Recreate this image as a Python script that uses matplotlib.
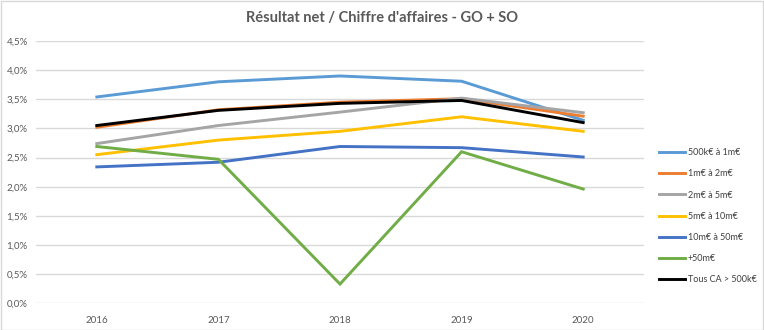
import matplotlib.pyplot as plt
from matplotlib.patches import Rectangle

plt.rcParams["font.family"] = ["Lato", "DejaVu Sans"]

YEARS = ["2016", "2017", "2018", "2019", "2020"]
SERIES_NAMES = ["500k€ à 1m€", "1m€ à 2m€", "2m€ à 5m€", "5m€ à 10m€",
                "10m€ à 50m€", "+50m€", "Tous CA > 500k€"]
S_500K_1M = [3.54, 3.80, 3.90, 3.81, 3.14]
S_1M_2M = [3.02, 3.32, 3.45, 3.51, 3.21]
S_2M_5M = [2.74, 3.05, 3.28, 3.52, 3.27]
S_5M_10M = [2.55, 2.80, 2.95, 3.20, 2.95]
S_10M_50M = [2.34, 2.42, 2.69, 2.67, 2.51]
S_50M_PLUS = [2.69, 2.47, 0.33, 2.60, 1.96]
S_TOUS = [3.05, 3.31, 3.43, 3.48, 3.10]
YTICKS = [0.0, 0.5, 1.0, 1.5, 2.0, 2.5, 3.0, 3.5, 4.0, 4.5]

COLORS = ["#5B9BD5", "#ED7D31", "#A5A5A5", "#FFC000", "#4472C4", "#70AD47", "#000000"]

fig = plt.figure(figsize=(7.64, 3.30), dpi=100)
ax = fig.add_axes([36 / 764, 1 - 303.3 / 330, 608 / 764, 262.3 / 330])

values = [S_500K_1M, S_1M_2M, S_2M_5M, S_5M_10M, S_10M_50M, S_50M_PLUS, S_TOUS]
x = range(len(YEARS))
for name, vals, color in zip(SERIES_NAMES, values, COLORS):
    ax.plot(x, vals, color=color, linewidth=2.1, label=name,
            solid_joinstyle="miter", zorder=3)

ax.set_xlim(-0.5, len(YEARS) - 0.5)
ax.set_ylim(0, 4.5)
ax.set_xticks(list(x))
ax.set_xticklabels(YEARS)
ax.set_yticks(YTICKS)
ax.set_yticklabels([f"{v:.1f}%".replace(".", ",") for v in YTICKS])
ax.tick_params(length=0, labelsize=7, colors="#595959", pad=6)
ax.tick_params(axis="x", pad=9)
ax.grid(True, axis="y", color="#D9D9D9", linewidth=1.0, zorder=0)
for side in ["top", "right", "left", "bottom"]:
    ax.spines[side].set_visible(False)

fig.text(0.5, 1 - 18 / 330, "Résultat net / Chiffre d'affaires - GO + SO",
         ha="center", va="center", fontsize=10.5, fontweight="bold",
         color="#595959")

fig.legend(loc="upper left", bbox_to_anchor=(651 / 764, 1 - 140 / 330),
           frameon=False, fontsize=6.5, handlelength=2.9, handletextpad=0.3,
           labelspacing=1.35, labelcolor="#404040")

fig.patches.append(Rectangle((0.5 / 764, 0.5 / 330), 1 - 1.5 / 764, 1 - 1.5 / 330,
                             transform=fig.transFigure, fill=False,
                             edgecolor="#D9D9D9", linewidth=1.0))

fig.savefig("out.png", dpi=100)
